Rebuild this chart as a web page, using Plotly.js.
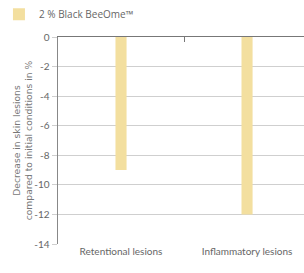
<!DOCTYPE html>
<html><head><meta charset="utf-8">
<script src="https://cdn.plot.ly/plotly-3.0.1.min.js"></script>
<style>html,body{margin:0;padding:0;background:#fff}#c{width:304px;height:273px}</style>
</head><body><div id="c"></div>
<script>
const categories = ["Retentional lesions", "Inflammatory lesions"];
const seriesName = "2\u00a0% Black BeeOme\u2122";
const values = [-9, -12];
const yTicks = [0, -2, -4, -6, -8, -10, -12, -14];

const font = {family: "Lato, 'Open Sans', sans-serif", size: 10, color: "#666"};
const data = [{
  type: "bar", x: categories, y: values, name: seriesName,
  marker: {color: "#f3df9f"}, width: 0.088, showlegend: true
}, {
  type: "scatter", x: categories, y: [null, null], xaxis: "x2", showlegend: false, hoverinfo: "skip"
}];
const layout = {
  width: 304, height: 273,
  margin: {l: 58, r: 0, t: 37, b: 29, autoexpand: false},
  paper_bgcolor: "#fff", plot_bgcolor: "#fff",
  font: font,
  showlegend: true,
  legend: {x: -0.24, y: 1.18, xanchor: "left", yanchor: "top",
           font: {family: "'Open Sans', sans-serif", size: 10, color: "#666"}},
  xaxis: {type: "category", range: [-0.5, 1.452], showgrid: false, ticks: "", showline: false, tickangle: 0,
          zeroline: false, tickfont: {size: 10, color: "#666"}, automargin: false},
  xaxis2: {type: "category", overlaying: "x", side: "top", range: [-0.5, 1.452],
           showticklabels: false, ticks: "inside", ticklen: 5, tickcolor: "#777", tickson: "boundaries",
           showline: true, linecolor: "#777", linewidth: 1.5, showgrid: false, zeroline: false, automargin: false},
  yaxis: {range: [-14, 0], tickvals: yTicks, ticktext: yTicks.map(String), showgrid: true, gridcolor: "#cfcfcf",
          ticks: "outside", ticklen: 5, tickcolor: "#cfcfcf", showline: true, linecolor: "#888", linewidth: 1.5,
          zeroline: false, tickfont: {size: 10, color: "#666"}, automargin: true,
          title: {text: "Decrease in skin lesions<br>compared to initial conditions in %",
                  font: {family: "'DejaVu Sans', sans-serif", size: 9.2, color: "#777"}, standoff: 0}}
};
Plotly.newPlot("c", data, layout, {displayModeBar: false, staticPlot: true});
</script></body></html>
